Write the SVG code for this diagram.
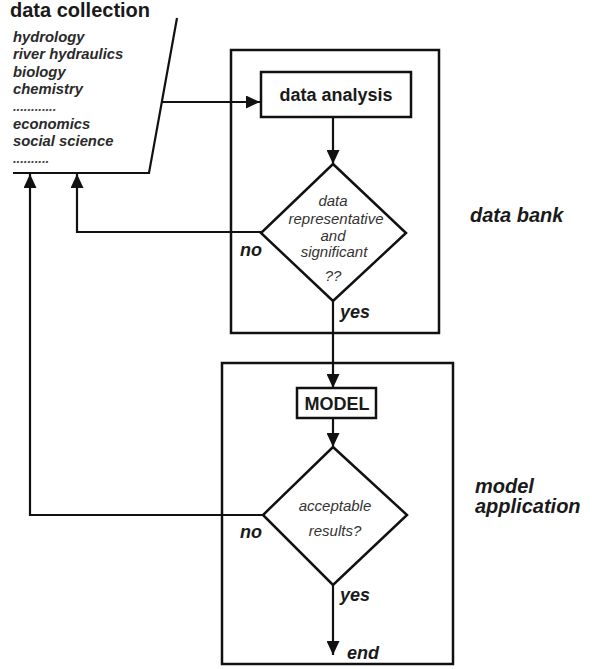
<svg xmlns="http://www.w3.org/2000/svg" width="592" height="669" viewBox="0 0 592 669">
  <style>
    .frame { fill: none; stroke: #111; stroke-width: 2.5; }
    .box { fill: #fff; stroke: #111; stroke-width: 2.5; }
    .wire { fill: none; stroke: #111; stroke-width: 2.2; }
    .title { font-family: "Liberation Sans", Arial, sans-serif; font-weight: bold; fill: #1a1a1a; }
    .item { font-family: "Liberation Sans", Arial, sans-serif; font-weight: bold; font-style: italic; font-size: 14.8px; fill: #2a2a2a; }
    .dots { font-family: "Liberation Sans", Arial, sans-serif; font-weight: bold; font-style: italic; font-size: 13px; fill: #444; }
    .cond { font-family: "Liberation Sans", Arial, sans-serif; font-style: italic; font-size: 15px; fill: #333; text-anchor: middle; }
    .lbl { font-family: "Liberation Sans", Arial, sans-serif; font-weight: bold; font-style: italic; font-size: 18px; fill: #1a1a1a; }
    .side { font-family: "Liberation Sans", Arial, sans-serif; font-weight: bold; font-style: italic; font-size: 20px; fill: #1a1a1a; }
  </style>
  <defs>
    <marker id="arrow" viewBox="0 0 14 13" refX="14" refY="6.5" markerWidth="14" markerHeight="13" markerUnits="userSpaceOnUse" orient="auto">
      <path d="M0,0 L14,6.5 L0,13 Z" fill="#111"/>
    </marker>
  </defs>

  <!-- section frames -->
  <g id="data-bank">
    <rect class="frame" x="231" y="50" width="208" height="283"/>
    <text class="side" x="470" y="222">data bank</text>
  </g>
  <g id="model-application">
    <rect class="frame" x="222" y="363" width="231" height="301"/>
    <text class="side" x="475" y="493">model</text>
    <text class="side" x="475" y="513">application</text>
  </g>

  <!-- data collection sheet -->
  <g id="data-collection">
    <path class="wire" d="M177,18 L149,173 L13,173"/>
    <text class="title" x="10" y="17" font-size="20">data collection</text>
    <text class="item" x="13" y="42">hydrology</text>
    <text class="item" x="13" y="59">river hydraulics</text>
    <text class="item" x="13" y="77">biology</text>
    <text class="item" x="13" y="94">chemistry</text>
    <text class="dots" x="13" y="111">............</text>
    <text class="item" x="13" y="129">economics</text>
    <text class="item" x="13" y="146">social science</text>
    <text class="dots" x="13" y="163">..........</text>
  </g>

  <!-- connectors -->
  <g id="connectors">
    <line class="wire" x1="162" y1="102" x2="260" y2="102" marker-end="url(#arrow)"/>
    <line class="wire" x1="333" y1="117" x2="333" y2="164" marker-end="url(#arrow)"/>
    <polyline class="wire" points="261,232 77,232 77,174" marker-end="url(#arrow)"/>
    <line class="wire" x1="333" y1="301" x2="333" y2="388" marker-end="url(#arrow)"/>
    <line class="wire" x1="333" y1="418" x2="333" y2="447" marker-end="url(#arrow)"/>
    <polyline class="wire" points="263,515 30,515 30,174" marker-end="url(#arrow)"/>
    <line class="wire" x1="333" y1="585" x2="333" y2="655" marker-end="url(#arrow)"/>
  </g>

  <!-- data analysis -->
  <g id="data-analysis">
    <rect class="box" x="261" y="72" width="150" height="45"/>
    <text class="title" x="336" y="101" font-size="18" text-anchor="middle">data analysis</text>
  </g>

  <!-- check: data representative and significant -->
  <g id="data-check">
    <polygon class="box" points="333,164 406,233 333,301 261,233"/>
    <text class="cond" x="333" y="206">data</text>
    <text class="cond" x="336" y="224">representative</text>
    <text class="cond" x="333" y="240.5">and</text>
    <text class="cond" x="334" y="257">significant</text>
    <text class="cond" x="333" y="281">??</text>
    <text class="lbl" x="240" y="256">no</text>
    <text class="lbl" x="340" y="318">yes</text>
  </g>

  <!-- model -->
  <g id="model">
    <rect class="box" x="297" y="388" width="79" height="30"/>
    <text class="title" x="337" y="410" font-size="18" text-anchor="middle">MODEL</text>
  </g>

  <!-- check: acceptable results -->
  <g id="results-check">
    <polygon class="box" points="333,447 407,515 333,585 263,515"/>
    <text class="cond" x="335" y="511">acceptable</text>
    <text class="cond" x="335" y="536">results?</text>
    <text class="lbl" x="240" y="538">no</text>
    <text class="lbl" x="340" y="601">yes</text>
  </g>

  <!-- end -->
  <g id="end">
    <text class="lbl" x="347" y="659">end</text>
  </g>
</svg>
